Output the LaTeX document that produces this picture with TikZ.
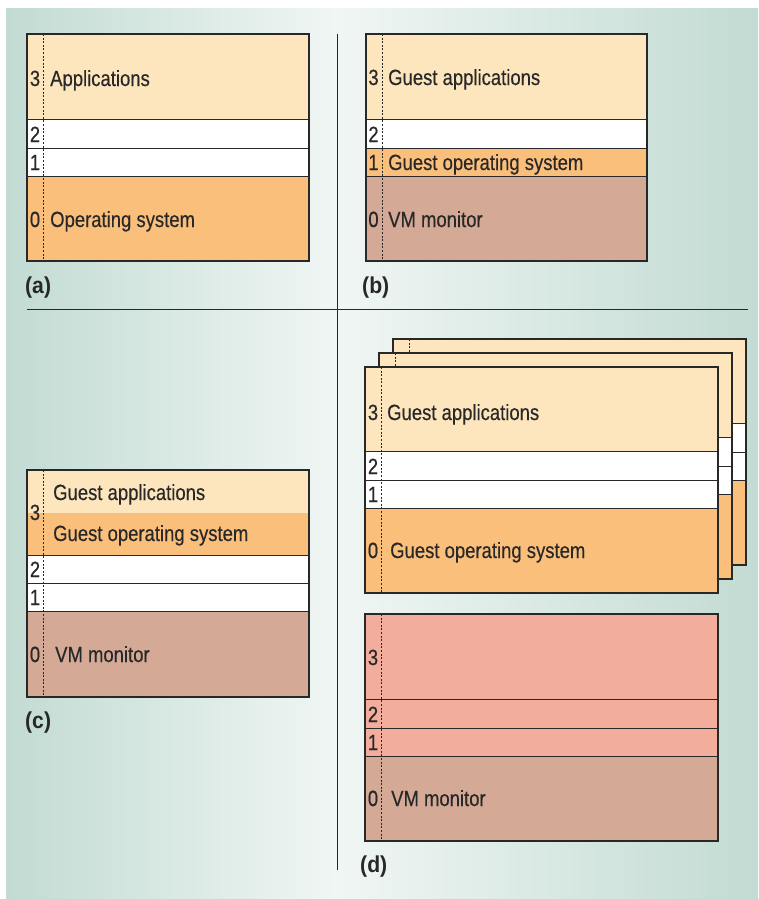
\documentclass[tikz,border=0pt]{standalone}
\usepackage{fontspec}
\setmainfont[FakeStretch=0.84, FakeBold=0.35]{Liberation Sans}
\newfontfamily\tagfont[FakeStretch=0.92]{Liberation Sans}

\tikzset{
  row/.style={draw=ink, line width=0.8pt},
  frame/.style={draw=ink, line width=1.3pt},
  ringline/.style={draw=ink, line width=0.9pt, dash pattern=on 2pt off 1.6pt},
  lvl/.style={anchor=center, inner sep=0pt, text height=16pt, text depth=0pt, text=ink, font=\fontsize{22}{26}\selectfont},
  lbl/.style={anchor=west, inner sep=0pt, text height=16pt, text depth=0pt, text=ink, font=\fontsize{22}{26}\selectfont},
  panel/.style={anchor=base west, inner sep=0pt, text=ink, font=\tagfont\bfseries\fontsize{23}{27}\selectfont},
  sep/.style={draw=ink, line width=0.9pt}
}

\begin{document}
\begin{tikzpicture}[x=1pt, y=-1pt]
            \definecolor{appl}{RGB}{253,229,189}
            \definecolor{osc}{RGB}{251,191,124}
            \definecolor{vmm}{RGB}{212,169,149}
            \definecolor{salmon}{RGB}{242,173,157}
            \definecolor{bgdark}{RGB}{194,219,211}
            \definecolor{bglight}{RGB}{240,246,244}
            \definecolor{ink}{RGB}{40,40,40}
            \useasboundingbox (0,0) rectangle (758,899);

            % background
            \shade[left color=bgdark, right color=bglight] (6,9) rectangle (337,899);
            \shade[left color=bglight, right color=bgdark] (337,9) rectangle (758,899);
            \draw[sep] (337,34) -- (337,870);
            \draw[sep] (27,309) -- (748,309);

            % (a)
            \draw[row, fill=appl] (27,34) rectangle (309,119);
            \draw[row, fill=white] (27,119) rectangle (309,148);
            \draw[row, fill=white] (27,148) rectangle (309,176);
            \draw[row, fill=osc] (27,176) rectangle (309,261);
            \draw[frame] (27,34) rectangle (309,261);
            \draw[ringline] (43.5,34) -- (43.5,261);
            \node[lvl] (a3) at (35,78) {3};
            \node[lvl] (a2) at (35,134) {2};
            \node[lvl] (a1) at (35,162) {1};
            \node[lvl] (a0) at (35,219) {0};
            \node[lbl] (a-app) at (50,78) {Applications};
            \node[lbl] (a-os) at (50,219) {Operating system};
            \node[panel] (a-tag) at (25,293) {(a)};

            % (b)
            \draw[row, fill=appl] (366,34) rectangle (647,119);
            \draw[row, fill=white] (366,119) rectangle (647,148);
            \draw[row, fill=osc] (366,148) rectangle (647,176);
            \draw[row, fill=vmm] (366,176) rectangle (647,261);
            \draw[frame] (366,34) rectangle (647,261);
            \draw[ringline] (382,34) -- (382,261);
            \node[lvl] (b3) at (373.5,77) {3};
            \node[lvl] (b2) at (373.5,134) {2};
            \node[lvl] (b1) at (373.5,162) {1};
            \node[lvl] (b0) at (373.5,219) {0};
            \node[lbl] (b-app) at (388,77) {Guest applications};
            \node[lbl] (b-os) at (388,162) {Guest operating system};
            \node[lbl] (b-vmm) at (388,219) {VM monitor};
            \node[panel] (b-tag) at (362,293) {(b)};

            % (c)
            \fill[appl] (27,470) rectangle (309,513);
            \fill[osc] (27,513) rectangle (309,555);
            \draw[row, fill=white] (27,555) rectangle (309,583);
            \draw[row, fill=white] (27,583) rectangle (309,611);
            \draw[row, fill=vmm] (27,611) rectangle (309,697);
            \draw[frame] (27,470) rectangle (309,697);
            \draw[ringline] (43.5,470) -- (43.5,697);
            \node[lvl] (c3) at (35,512) {3};
            \node[lvl] (c2) at (35,569) {2};
            \node[lvl] (c1) at (35,597) {1};
            \node[lvl] (c0) at (35,654) {0};
            \node[lbl] (c-app) at (53,492) {Guest applications};
            \node[lbl] (c-os) at (53,533) {Guest operating system};
            \node[lbl] (c-vmm) at (55,654) {VM monitor};
            \node[panel] (c-tag) at (25,728) {(c)};

            % (d) guest machines
            \foreach \s in {28,14,0} {
              \begin{scope}[shift={(\s,-\s)}]
                \draw[row, fill=appl] (365,367) rectangle (718,451);
                \draw[row, fill=white] (365,451) rectangle (718,480);
                \draw[row, fill=white] (365,480) rectangle (718,508);
                \draw[row, fill=osc] (365,508) rectangle (718,593);
                \draw[frame] (365,367) rectangle (718,593);
                \draw[ringline] (381,367) -- (381,593);
              \end{scope}
            }
            \node[lvl] (d3) at (373,412) {3};
            \node[lvl] (d2) at (373,466) {2};
            \node[lvl] (d1) at (373,494) {1};
            \node[lvl] (d0) at (373,550) {0};
            \node[lbl] (d-app) at (387,412) {Guest applications};
            \node[lbl] (d-os) at (390,550) {Guest operating system};

            % (d) monitor
            \draw[row, fill=salmon] (365,614) rectangle (718,699);
            \draw[row, fill=salmon] (365,699) rectangle (718,728);
            \draw[row, fill=salmon] (365,728) rectangle (718,756);
            \draw[row, fill=vmm] (365,756) rectangle (718,841);
            \draw[frame] (365,614) rectangle (718,841);
            \draw[ringline] (381.5,614) -- (381.5,841);
            \node[lvl] (e3) at (373,657) {3};
            \node[lvl] (e2) at (373,714) {2};
            \node[lvl] (e1) at (373,742) {1};
            \node[lvl] (e0) at (373,798) {0};
            \node[lbl] (e-vmm) at (391,798) {VM monitor};
            \node[panel] (d-tag) at (360,872) {(d)};
        \end{tikzpicture}
\end{document}
